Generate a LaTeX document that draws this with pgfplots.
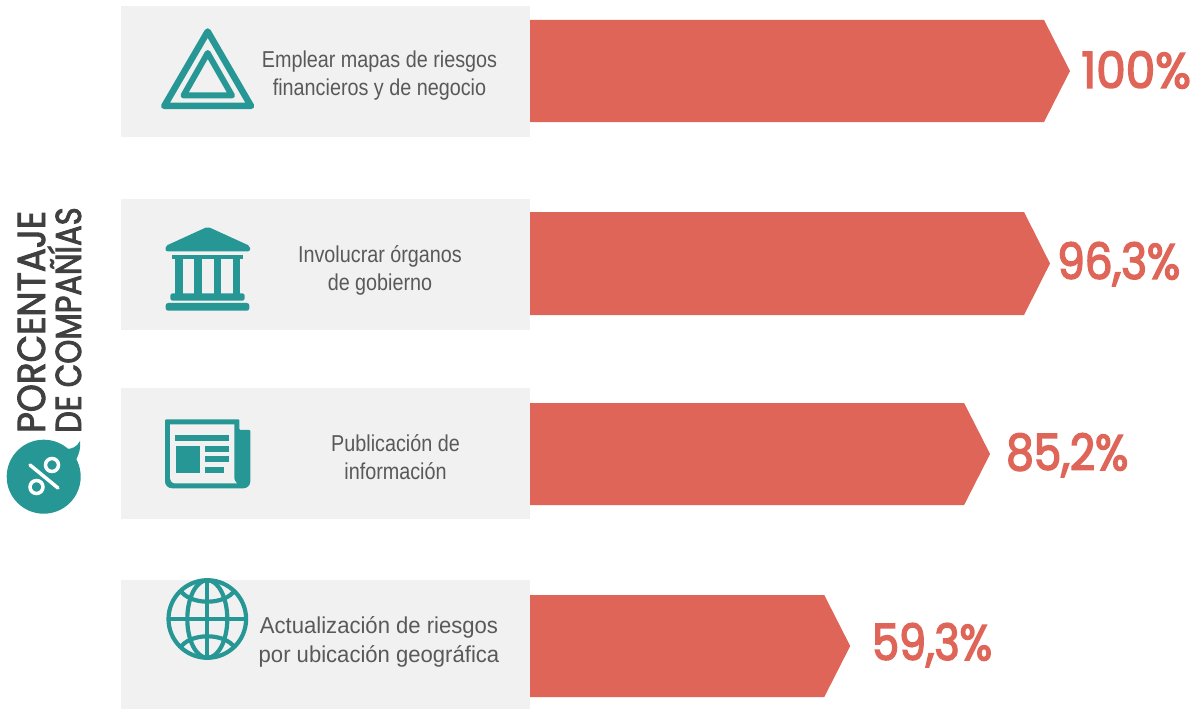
\documentclass[border=0pt]{standalone}
\usepackage{fontspec}
\usepackage{pgfplots}
\pgfplotsset{compat=1.18}
\setmainfont{Liberation Sans}
\newfontfamily\bodyf{Liberation Sans}[FakeStretch=0.86]
\newfontfamily\bodyw{Liberation Sans}[FakeStretch=0.96]
\newfontfamily\valf{Poppins}[FakeStretch=0.875,FakeBold=3]
\newfontfamily\valw{Poppins}[FakeStretch=0.94,FakeBold=3]
\newfontfamily\valn{Poppins}[FakeStretch=0.855,FakeBold=3]
\newfontfamily\titaf{Poppins}[FakeStretch=0.915,FakeBold=2.4]
\newfontfamily\titbf{Poppins}[FakeStretch=0.85,FakeBold=2.4]
\definecolor{panel}{HTML}{F1F1F1}
\definecolor{barc}{HTML}{DE6558}
\definecolor{teal}{HTML}{269794}
\definecolor{txt}{HTML}{595959}
\definecolor{ttl}{HTML}{404040}
\newcommand{\lab}[3]{\node[anchor=base,inner sep=0pt,text=txt] at (#1,#2) {\fontsize{23}{28}\selectfont\bodyf #3};}
\newcommand{\labw}[3]{\node[anchor=base,inner sep=0pt,text=txt] at (#1,#2) {\fontsize{23}{28}\selectfont\bodyw #3};}
\newcommand{\val}[3]{\node[anchor=base west,inner sep=0pt,text=barc] at (#1,#2) {\fontsize{50}{50}\selectfont #3};}
\begin{document}
\begin{tikzpicture}[x=1pt,y=1pt]
\path[use as bounding box] (0,0) rectangle (1198,709);
\begin{scope}[yscale=-1,yshift=-709pt]
\fill[panel] (121,6) rectangle (530,137);
\fill[panel] (121,199) rectangle (530,330);
\fill[panel] (121,388) rectangle (530,519);
\fill[panel] (121,580) rectangle (530,709);
\end{scope}
\begin{axis}[at={(0,0)},anchor=south west,scale only axis,width=1198pt,height=709pt,
  hide axis,clip=false,xmin=-98.148,xmax=123.704,ymin=0,ymax=709,y dir=reverse]
% shoulder of the arrow lies 4.81 percentage points before the tip
\addplot[fill=barc,draw=none] coordinates {(0,20) (95.19,20) (100,71) (95.19,122) (0,122)};
\addplot[fill=barc,draw=none] coordinates {(0,212) (91.49,212) (96.3,263.5) (91.49,315) (0,315)};
\addplot[fill=barc,draw=none] coordinates {(0,403) (80.39,403) (85.2,454) (80.39,505) (0,505)};
\addplot[fill=barc,draw=none] coordinates {(0,595) (54.49,595) (59.3,646) (54.49,697) (0,697)};
\end{axis}
\begin{scope}[yscale=-1,yshift=-709pt]
% triangle icon
\draw[teal,line width=6.5pt,line join=round] (207.7,31.5) -- (251,106) -- (164.3,106) -- cycle;
\draw[teal,line width=6pt,line join=round] (207.7,53) -- (232,95.5) -- (183.5,95.5) -- cycle;
% bank icon
\fill[teal,rounded corners=2pt] (207.7,226.7) -- (250,246) -- (250,251.3) -- (165.5,251.3) -- (165.5,246) -- cycle;
\fill[teal] (172.3,255) rectangle (242.7,258.7);
\fill[teal] (175,258) rectangle (182.7,294);
\fill[teal] (194.3,258) rectangle (201.7,294);
\fill[teal] (213.7,258) rectangle (221,294);
\fill[teal] (232.7,258) rectangle (240,294);
\fill[teal,rounded corners=2.5pt] (170.3,293.3) rectangle (244.7,300.7);
\fill[teal,rounded corners=2.5pt] (165.7,303) rectangle (249.3,310.7);
% newspaper icon
\fill[teal,rounded corners=1pt] (165,419.3) -- (239.3,419.3) -- (239.3,430) -- (250.3,430) -- (250.3,478) [rounded corners=7pt] -- (250.3,488.3) -- (165,488.3) [rounded corners=1pt] -- cycle;
\fill[panel] (170,424.3) -- (234.3,424.3) -- (234.3,476) .. controls (234.3,480) and (235,482) .. (237,483.5) -- (176,483.5) .. controls (172,483.5) and (170,481) .. (170,477) -- cycle;
\fill[teal] (175,435) rectangle (229,441);
\fill[teal] (176,446) rectangle (200,473);
\fill[teal] (205,446) rectangle (229,452);
\fill[teal] (205,456) rectangle (229,462);
\fill[teal] (205,467) rectangle (224,473);
% globe icon
\begin{scope}[teal,line width=4.2pt]
\draw (207.3,619) circle[radius=38.8];
\draw (207.3,619) ellipse[x radius=20,y radius=38.8];
\draw (207.3,580) -- (207.3,658);
\draw (168.5,619) -- (246,619);
\draw (180,590) .. controls (190,605.6) and (225,605.6) .. (235,590);
\draw (180,648) .. controls (190,632.4) and (225,632.4) .. (235,648);
\end{scope}
% category texts
\lab{379.5}{68}{Emplear mapas de riesgos}
\lab{379.5}{96}{financieros y de negocio}
\lab{380}{263}{Involucrar órganos}
\lab{380}{291}{de gobierno}
\lab{395.5}{452}{Publicación de}
\lab{395.5}{480}{información}
\labw{379}{634}{Actualización de riesgos}
\labw{379}{662}{por ubicación geográfica}
% bubble
\fill[teal] (43.7,476.7) circle[radius=37];
\fill[teal] (66,449) .. controls (72,449) and (77,447) .. (80,441) .. controls (81,448) and (79,454) .. (76,460) -- cycle;
\draw[white,line width=3.5pt,line cap=round] (30,465) -- (58,488);
\draw[white,line width=3.5pt] (52,465) circle[radius=6.5];
\draw[white,line width=3.5pt] (36.5,487) circle[radius=6.5];
\end{scope}
% values (y measured from the bottom: 709 - pixel row)
\val{1081}{621}{\valw 100\%}
\val{1057}{430}{\valf 96,3\%}
\val{1006}{239}{\valf 85,2\%}
\val{872}{49}{\valn 59,3\%}
% title
\node[rotate=90,anchor=base west,inner sep=0pt,text=ttl] at (45,276) {\fontsize{39}{40}\selectfont\titaf PORCENTAJE};
\node[rotate=90,anchor=base west,inner sep=0pt,text=ttl] at (81,276) {\fontsize{36}{40}\selectfont\titbf DE COMPAÑÍAS};
\end{tikzpicture}
\end{document}
